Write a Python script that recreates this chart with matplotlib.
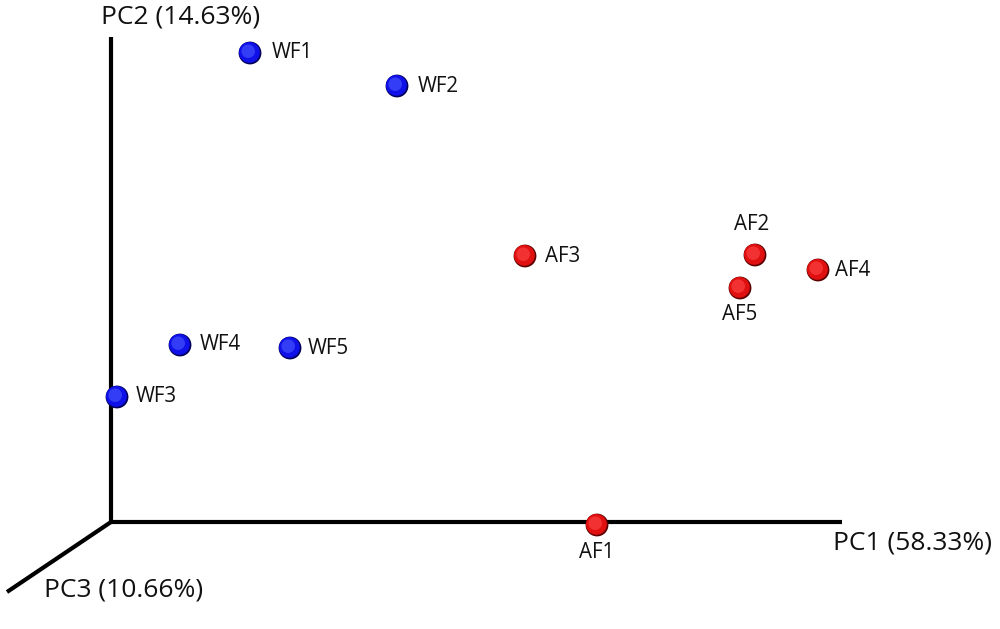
import matplotlib
matplotlib.use("Agg")
import matplotlib.pyplot as plt
import numpy as np

plt.rcParams['font.family'] = ['Open Sans', 'DejaVu Sans']

# Projected sample positions (screen-space of the 3D PCoA view)
wf_labels = ["WF1", "WF2", "WF3", "WF4", "WF5"]
wf_x = [250, 397, 117, 180, 290]
wf_y = [53, 86, 397, 345, 348]

af_labels = ["AF1", "AF2", "AF3", "AF4", "AF5"]
af_x = [597, 755, 525, 818, 740]
af_y = [525, 255, 256, 270, 288]

axis_labels = ["PC1 (58.33%)", "PC2 (14.63%)", "PC3 (10.66%)"]

fig = plt.figure(figsize=(10, 6.29), dpi=100)
ax = fig.add_axes([0, 0, 1, 1])
ax.set_xlim(0, 1000)
ax.set_ylim(629, 0)
ax.axis('off')

# axes of the 3D frame
origin = (111, 522)
lw = 3.0
ax.plot([origin[0], origin[0]], [origin[1], 37], color='black', lw=lw, solid_capstyle='butt', zorder=1)
ax.plot([origin[0], 842], [origin[1], 522], color='black', lw=lw, solid_capstyle='butt', zorder=1)
ax.plot([origin[0], 7], [origin[1], 592], color='black', lw=lw, solid_capstyle='butt', zorder=1)

fs_axis = 19
ax.text(833, 543, axis_labels[0], fontsize=fs_axis, ha='left', va='center', color='#111111')
ax.text(101, 17, axis_labels[1], fontsize=fs_axis, ha='left', va='center', color='#111111')
ax.text(44, 590, axis_labels[2], fontsize=fs_axis, ha='left', va='center', color='#111111')

def spheres(xs, ys, dark, mid, light):
    xs = np.asarray(xs, float); ys = np.asarray(ys, float)
    ax.scatter(xs, ys, s=270, color=dark, edgecolors='none', zorder=3)
    ax.scatter(xs - 0.6, ys - 0.6, s=225, color=mid, edgecolors='none', zorder=4)
    ax.scatter(xs - 1.8, ys - 1.8, s=95, color=light, edgecolors='none', zorder=5, alpha=0.6)

spheres(wf_x, wf_y, '#00005a', '#1010e8', '#4a5cff')
spheres(af_x, af_y, '#5a0000', '#e01010', '#ff4a4a')

fs_pt = 14.8
# labels
wf_off = {"WF1": (22, 0), "WF2": (21, 0), "WF3": (19, 0), "WF4": (20, 0), "WF5": (18, 0)}
for lab, x, y in zip(wf_labels, wf_x, wf_y):
    dx, dy = wf_off[lab]
    ax.text(x + dx, y + dy, lab, fontsize=fs_pt, ha='left', va='center', color='#111111')

af_off = {"AF1": (0, 28, 'center'), "AF2": (-3, -31, 'center'), "AF3": (20, 0, 'left'),
          "AF4": (17, 0, 'left'), "AF5": (0, 26, 'center')}
for lab, x, y in zip(af_labels, af_x, af_y):
    dx, dy, ha = af_off[lab]
    ax.text(x + dx, y + dy, lab, fontsize=fs_pt, ha=ha, va='center', color='#111111')

fig.savefig("out.png", dpi=100, facecolor='white')
